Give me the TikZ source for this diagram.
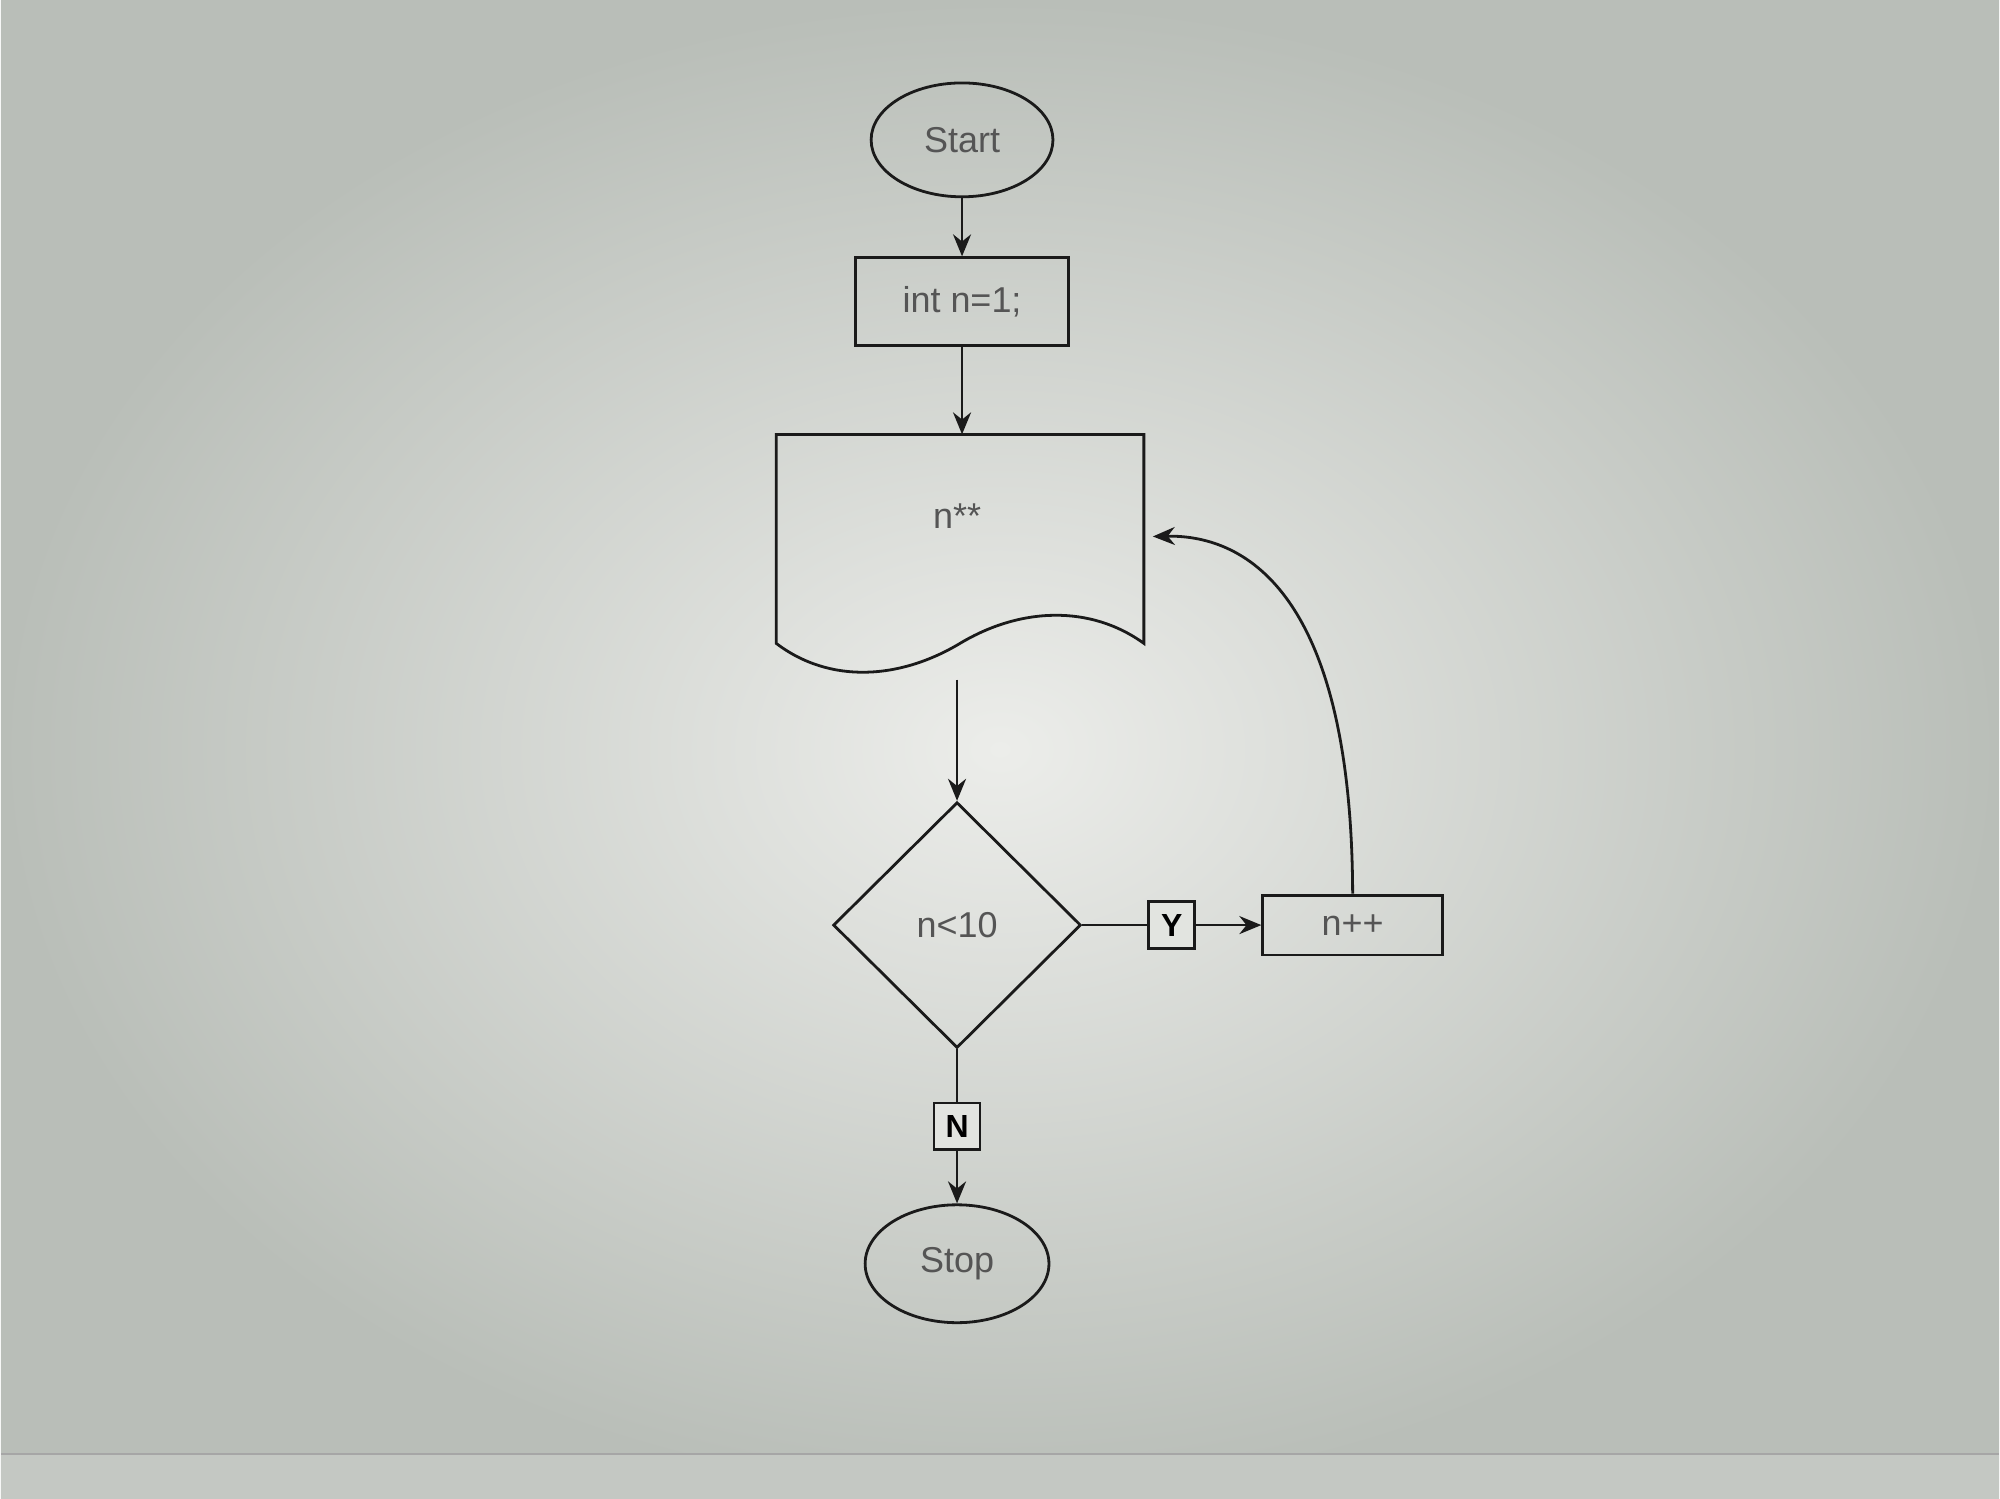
\documentclass[tikz,border=0pt]{standalone}
\usepackage{fontspec}
\setmainfont{Liberation Sans}
\usetikzlibrary{shapes.geometric,arrows.meta}
\definecolor{txt}{HTML}{555555}
\definecolor{ln}{HTML}{1A1A1A}
\definecolor{bgin}{HTML}{ECEDEA}
\definecolor{bgout}{HTML}{B9BEB8}
\definecolor{labfill}{HTML}{E2E4E0}
\tikzset{
  base/.style={draw=ln, line width=2.8pt, text=txt, font=\fontsize{36}{43}\selectfont, inner sep=0pt},
  term/.style={base, ellipse},
  proc/.style={base, rectangle},
  dec/.style={base, diamond, aspect=1},
  lab/.style={draw=ln, line width=2.8pt, fill=labfill, text=black, font=\fontsize{32}{38}\selectfont\bfseries, minimum width=46pt, minimum height=47pt, inner sep=0pt},
  arr/.style={draw=ln, line width=2.8pt, -{Stealth[length=22pt,width=18pt]}},
  ln/.style={draw=ln, line width=2.8pt}
}
\begin{document}
\begin{tikzpicture}[x=1pt,y=-1pt]
\shade[inner color=bgin, outer color=bgout] (0,0) rectangle (2000,1500);
\fill[bgout!85!white] (0,1455) rectangle (2000,1500);
\draw[gray!70!white, line width=2pt] (0,1455) -- (2000,1455);
\useasboundingbox (0,0) rectangle (2000,1500);

\node[term, minimum width=182pt, minimum height=114pt] (start) at (962,140) {Start};
\node[proc, minimum width=213pt, minimum height=88pt] (init) at (962,302) {int n=1;};
% document shape
\node[minimum width=368pt, minimum height=240pt, inner sep=0pt] (doc) at (958,555) {};
\draw[ln] (776,435) -- (1144,435) -- (1144,644)
  .. controls (1090,605) and (1020,608) .. (960,644)
  .. controls (900,680) and (830,685) .. (776,644) -- cycle;
\node[text=txt, font=\fontsize{36}{43}\selectfont] (doctext) at (957,517) {n**};
\node[dec, minimum width=248pt, minimum height=246pt] (cond) at (957,926) {n<10};
\node[proc, minimum width=180pt, minimum height=60pt] (inc) at (1353,926) {n++};
\node[term, minimum width=184pt, minimum height=118pt] (stop) at (957,1265) {Stop};
\coordinate (back) at (1153,537);

\draw[arr] (start) -- (init);
\draw[arr] (init.south) -- (init.south |- doc.north);
\draw[arr] ([yshift=-5pt]doc.south -| cond.north) -- (cond.north);
\draw[arr] (cond.east) -- node[lab] {Y} (inc.west);
\draw[arr] (cond.south) -- node[lab] {N} (stop.north);
\draw[arr] (inc.north) .. controls (1352,600) and (1250,535) .. (back);
\end{tikzpicture}
\end{document}
